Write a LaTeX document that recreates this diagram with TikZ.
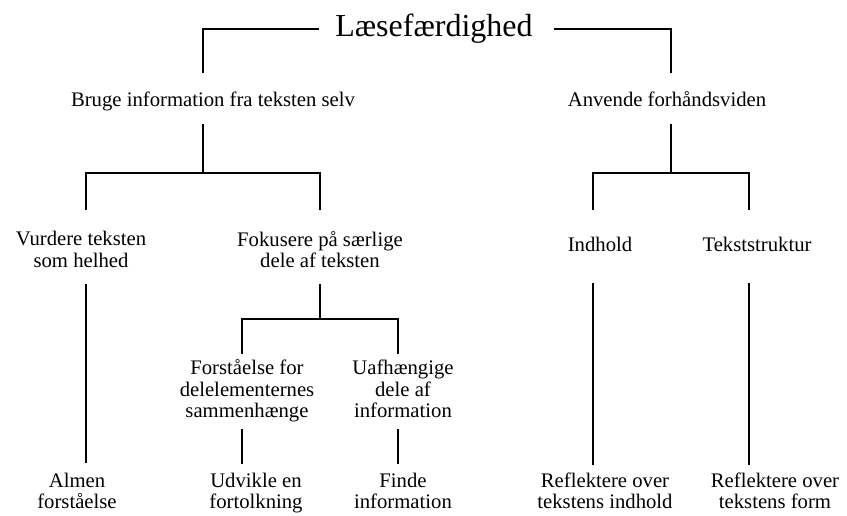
\documentclass[tikz,border=0pt]{standalone}
\usepackage{fontspec}
\setmainfont{Liberation Serif}
\begin{document}
\begin{tikzpicture}[x=1pt,y=-1pt,
  label/.style={align=center,inner sep=0pt,font=\fontsize{20.7}{21.5}\selectfont,
    execute at begin node=\strut,execute at end node=\strut},
  leaf/.style={label,execute at end node={\rule[-4.5pt]{0pt}{4.5pt}}},
  heading/.style={inner sep=0pt,anchor=base,font=\fontsize{32}{34}\selectfont},
  branch/.style={line width=1.7pt,line cap=rect}]
\useasboundingbox (0,0) rectangle (847,515);

% labels (struts keep every line the same height)
\node[heading] (root) at (434,36) {Læsefærdighed};
\node[label] (b1) at (213,102.4) {Bruge information fra teksten selv};
\node[label] (b2) at (667,102.4) {Anvende forhåndsviden};
\node[label] (c1) at (81,252.5) {Vurdere teksten\\som helhed};
\node[label] (c2) at (320,252.5) {Fokusere på særlige\\dele af teksten};
\node[label] (c3) at (600,247.4) {Indhold};
\node[label] (c4) at (757,247.4) {Tekststruktur};
\node[label] (d1) at (247,392.2) {Forståelse for\\delelementernes\\sammenhænge};
\node[label] (d2) at (403,392.2) {Uafhængige\\dele af\\information};
\node[leaf] (e1) at (77,494) {Almen\\forståelse};
\node[leaf] (e2) at (256,494) {Udvikle en\\fortolkning};
\node[leaf] (e3) at (403,494) {Finde\\information};
\node[leaf] (e4) at (605,494) {Reflektere over\\tekstens indhold};
\node[leaf] (e5) at (775,494) {Reflektere over\\tekstens form};

% connector end points
\coordinate (rL) at (203,72);  \coordinate (rLh) at (318,29);
\coordinate (rR) at (671,72);  \coordinate (rRh) at (555,29);
\coordinate (b1s) at (203,125); \coordinate (b1j) at (203,173);
\coordinate (c1n) at (86,209);  \coordinate (c2n) at (320,209);
\coordinate (b2s) at (671,125); \coordinate (b2j) at (671,173);
\coordinate (c3n) at (593,209); \coordinate (c4n) at (749,209);
\coordinate (c1s) at (86,285);  \coordinate (e1n) at (86,462);
\coordinate (c2s) at (320,285); \coordinate (c2j) at (320,319);
\coordinate (d1n) at (242,353); \coordinate (d2n) at (398,353);
\coordinate (d1s) at (242,430); \coordinate (e2n) at (242,463);
\coordinate (d2s) at (398,430); \coordinate (e3n) at (398,463);
\coordinate (c3s) at (593,284); \coordinate (e4n) at (593,464);
\coordinate (c4s) at (749,284); \coordinate (e5n) at (749,464);

% title brackets
\draw[branch] (rL) |- (rLh);
\draw[branch] (rR) |- (rRh);

% left subtree
\draw[branch] (b1s) -- (b1j);
\draw[branch] (c1n) |- (c2n |- b1j) -- (c2n);
\draw[branch] (c1s) -- (e1n);
\draw[branch] (c2s) -- (c2j);
\draw[branch] (d1n) |- (d2n |- c2j) -- (d2n);
\draw[branch] (d1s) -- (e2n);
\draw[branch] (d2s) -- (e3n);

% right subtree
\draw[branch] (b2s) -- (b2j);
\draw[branch] (c3n) |- (c4n |- b2j) -- (c4n);
\draw[branch] (c3s) -- (e4n);
\draw[branch] (c4s) -- (e5n);
\end{tikzpicture}
\end{document}
